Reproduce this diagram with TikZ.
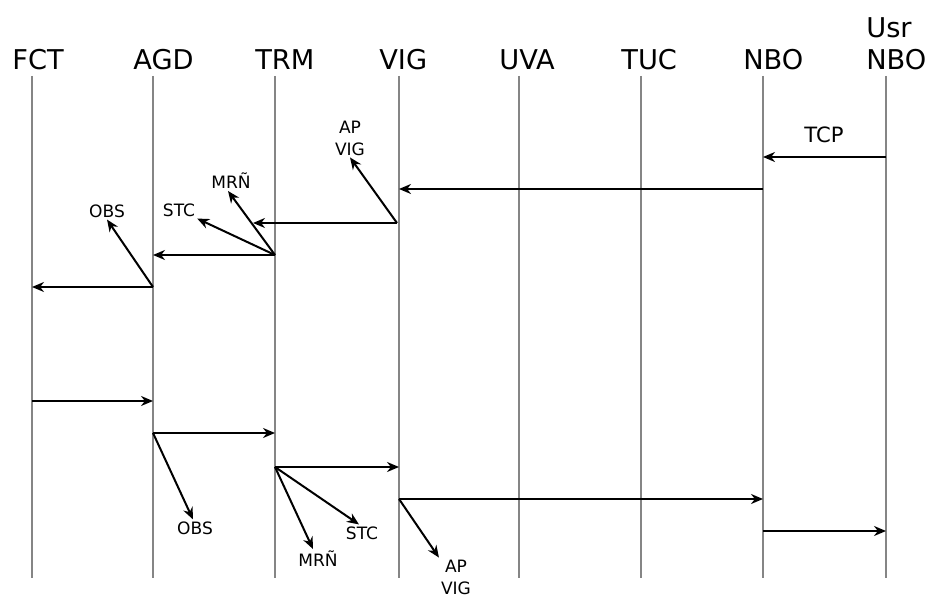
\documentclass[tikz,border=0pt]{standalone}
\usepackage{fontspec}
\setmainfont{DejaVu Sans}
\usetikzlibrary{arrows.meta}
\definecolor{lifegray}{HTML}{858585}

\begin{document}
\begin{tikzpicture}[
  x=0.2mm,
  y=-0.2mm,
  line join=round,
  header/.style={anchor=south west,inner sep=0pt,align=left,font=\fontsize{15.5pt}{18pt}\selectfont},
  lifeline/.style={draw=lifegray,line width=0.3mm},
  msg/.style={draw=black,line width=0.4mm,-{Stealth[length=2.4mm,width=2mm]}},
  tag/.style={inner sep=1pt,align=center,font=\fontsize{9.7pt}{12.5pt}\selectfont},
  bigtag/.style={inner sep=1pt,font=\fontsize{12pt}{14pt}\selectfont}
]
  \useasboundingbox (0,0) rectangle (928,596);
  \coordinate (bottom) at (0,578);

  % Lifelines with their headers (text starts a little left of the line).
  \foreach \n/\x/\lbl in {fct/32/FCT, agd/153/AGD, trm/275/TRM, vig/399/VIG,
                          uva/519/UVA, tuc/641/TUC, nbo/763/NBO, usr/886/{Usr\\NBO}} {
    \coordinate (\n) at (\x,76);
    \node[header] (\n-head) at (\x-20,70) {\lbl};
    \draw[lifeline] (\n) -- (\n |- bottom);
  }

  % Message rows.
  \coordinate (r1) at (0,157);
  \coordinate (r2) at (0,189);
  \coordinate (r3) at (0,223);
  \coordinate (r4) at (0,255);
  \coordinate (r5) at (0,287);
  \coordinate (r6) at (0,401);
  \coordinate (r7) at (0,433);
  \coordinate (r8) at (0,467);
  \coordinate (r9) at (0,499);
  \coordinate (r10) at (0,531);

  % Side labels.
  \node[bigtag] (tcp) at (824,135) {TCP};
  \node[tag] (apvigA) at (350,138) {AP\\VIG};
  \node[tag] (mrnA) at (231,181) {MRÑ};
  \node[tag] (stcA) at (179,210) {STC};
  \node[tag] (obsA) at (107,211) {OBS};
  \node[tag] (obsB) at (195,528) {OBS};
  \node[tag] (mrnB) at (318,559) {MRÑ};
  \node[tag] (stcB) at (362,533) {STC};
  \node[tag] (apvigB) at (456,577) {AP\\VIG};

  % Incoming request, back towards FCT.
  \draw[msg] (usr |- r1) -- (nbo |- r1);
  \draw[msg] (nbo |- r2) -- (vig |- r2);
  \draw[msg] ([xshift=-0.4mm]vig |- r3) -- ([xshift=-4.4mm]trm |- r3);
  \draw[msg] ([xshift=-0.4mm]vig |- r3) -- (apvigA.south);
  \draw[msg] (trm |- r4) -- (agd |- r4);
  \draw[msg] (trm |- r4) -- ([xshift=-0.6mm]mrnA.south);
  \draw[msg] (trm |- r4) -- (stcA.south east);
  \draw[msg] (agd |- r5) -- (fct |- r5);
  \draw[msg] (agd |- r5) -- (obsA.south);

  % Answer, back towards the user.
  \draw[msg] (fct |- r6) -- (agd |- r6);
  \draw[msg] (agd |- r7) -- (trm |- r7);
  \draw[msg] (agd |- r7) -- ([xshift=-0.4mm]obsB.north);
  \draw[msg] (trm |- r8) -- (vig |- r8);
  \draw[msg] (trm |- r8) -- ([xshift=-1mm]mrnB.north);
  \draw[msg] (trm |- r8) -- ([xshift=-0.6mm]stcB.north);
  \draw[msg] (vig |- r9) -- (nbo |- r9);
  \draw[msg] (vig |- r9) -- (apvigB.north west);
  \draw[msg] (nbo |- r10) -- (usr |- r10);
\end{tikzpicture}
\end{document}
